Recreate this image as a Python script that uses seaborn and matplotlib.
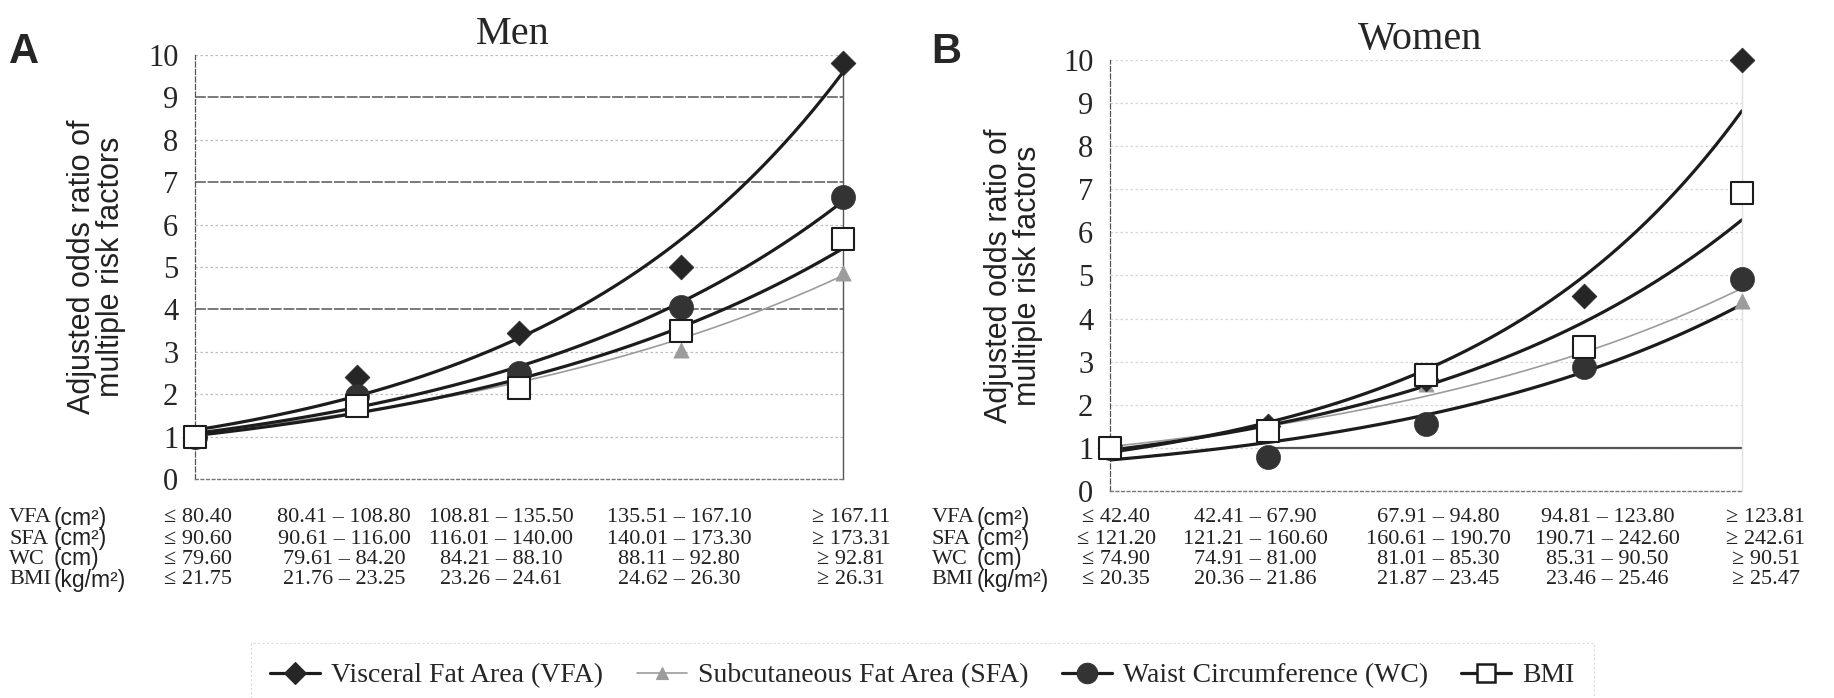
import numpy as np
import pandas as pd
import matplotlib
matplotlib.use("Agg")
import matplotlib.pyplot as plt
import seaborn as sns
from matplotlib.lines import Line2D
from matplotlib.transforms import blended_transform_factory

# ---------------- data ----------------
categories = ["Q1", "Q2", "Q3", "Q4", "Q5"]

men_vfa = [1.0, 2.4, 3.45, 5.0, 9.8]
men_sfa = [1.0, 1.75, 2.4, 3.05, 4.85]
men_wc = [1.0, 1.95, 2.5, 4.05, 6.65]
men_bmi = [1.0, 1.72, 2.15, 3.5, 5.65]

women_vfa = [1.0, 1.5, 2.6, 4.53, 10.0]
women_sfa = [1.0, 1.43, 2.48, 3.3, 4.4]
women_wc = [1.0, 0.78, 1.55, 2.87, 4.92]
women_bmi = [1.0, 1.4, 2.68, 3.33, 6.92]

row_names = ["VFA", "SFA", "WC", "BMI"]
row_units = ["(cm²)", "(cm²)", "(cm)", "(kg/m²)"]
men_table = [
    ["≤ 80.40", "80.41 – 108.80", "108.81 – 135.50", "135.51 – 167.10", "≥ 167.11"],
    ["≤ 90.60", "90.61 – 116.00", "116.01 – 140.00", "140.01 – 173.30", "≥ 173.31"],
    ["≤ 79.60", "79.61 – 84.20", "84.21 – 88.10", "88.11 – 92.80", "≥ 92.81"],
    ["≤ 21.75", "21.76 – 23.25", "23.26 – 24.61", "24.62 – 26.30", "≥ 26.31"],
]
women_table = [
    ["≤ 42.40", "42.41 – 67.90", "67.91 – 94.80", "94.81 – 123.80", "≥ 123.81"],
    ["≤ 121.20", "121.21 – 160.60", "160.61 – 190.70", "190.71 – 242.60", "≥ 242.61"],
    ["≤ 74.90", "74.91 – 81.00", "81.01 – 85.30", "85.31 – 90.50", "≥ 90.51"],
    ["≤ 20.35", "20.36 – 21.86", "21.87 – 23.45", "23.46 – 25.46", "≥ 25.47"],
]
series_names = ["Visceral Fat Area (VFA)", "Subcutaneous Fat Area (SFA)",
                "Waist Circumference (WC)", "BMI"]
y_ticks = list(range(0, 11))

# ---------------- style ----------------
sns.set_theme(style="white")
plt.rcParams["font.family"] = ["Liberation Serif", "DejaVu Serif"]
SERIF = ["Liberation Serif", "DejaVu Serif"]
SANS = ["Liberation Sans", "DejaVu Sans"]

BLACK = "#1c1c1c"
GRAY = "#9c9c9c"

styles = {
    "VFA": dict(line=BLACK, lw=2.3, marker="D", s=160, face="#262626", edge="#262626", elw=0.5),
    "SFA": dict(line=GRAY, lw=1.2, marker="^", s=120, face=GRAY, edge=GRAY, elw=0.5),
    "WC": dict(line=BLACK, lw=2.3, marker="o", s=300, face="#333333", edge="#333333", elw=0.5),
    "BMI": dict(line=BLACK, lw=2.3, marker="s", s=240, face="white", edge=BLACK, elw=1.5),
}

fig = plt.figure(figsize=(18.34, 6.98), dpi=100)
axA = fig.add_axes([0.1063, 0.3138, 0.3533, 0.6074])
axB = fig.add_axes([0.6052, 0.2966, 0.3446, 0.6175])

x = np.arange(len(categories))
xs = np.linspace(0, len(categories) - 1, 200)


def exp_trend(vals):
    b, a = np.polyfit(x, np.log(vals), 1)
    return np.exp(a + b * xs)


def draw_panel(ax, data, title, letter, table, col_x, dark_grid, grid_light, label_x, letter_x):
    ax.set_xlim(0, 4)
    ax.set_ylim(0, 10)
    # gridlines
    for yv in range(1, 11):
        c, ls, lw = (grid_light, (0, (2, 2)), 0.9)
        if yv in dark_grid:
            c, ls, lw = ("#6f6f6f", (0, (6, 1)), 1.3)
        ax.axhline(yv, color=c, ls=ls, lw=lw, zorder=0)
    # trend lines
    for key in ["SFA", "BMI", "WC", "VFA"]:
        st = styles[key]
        sns.lineplot(x=xs, y=exp_trend(data[key]), ax=ax, color=st["line"],
                     lw=st["lw"], zorder=2, legend=False)
    for key in ["SFA", "VFA", "WC", "BMI"]:
        st = styles[key]
        df = pd.DataFrame({"x": x, "y": data[key]})
        sns.scatterplot(data=df, x="x", y="y", ax=ax, marker=st["marker"], s=st["s"],
                        color=st["face"], edgecolor=st["edge"], linewidth=st["elw"],
                        zorder=4, clip_on=False, legend=False)
    # spines
    ax.spines["top"].set_visible(False)
    ax.spines["left"].set_linestyle((0, (4, 2)))
    ax.spines["left"].set_color("#555555")
    ax.spines["left"].set_linewidth(0.9)
    ax.spines["bottom"].set_linestyle((0, (2, 2)))
    ax.spines["bottom"].set_color("#777777")
    ax.spines["bottom"].set_linewidth(1.0)
    ax.spines["right"].set_color("#555555" if letter == "A" else "#e0e0e0")
    ax.spines["right"].set_linewidth(1.0)
    ax.set_yticks(y_ticks)
    ax.set_yticklabels([str(t) for t in y_ticks], fontsize=22, family=SERIF)
    ax.tick_params(axis="y", length=0, pad=12)
    ax.set_xticks([1, 2, 3])
    ax.set_xticklabels([])
    ax.tick_params(axis="x", direction="in", length=6, width=1, color="#444444")
    ax.set_xlabel("")
    ax.set_ylabel("Adjusted odds ratio of\nmultiple risk factors", fontsize=22,
                  family=SANS, linespacing=0.95, color="#222222")
    ax.yaxis.set_label_coords(label_x, 0.5)
    ax.set_title(title, fontsize=29, family=SERIF, pad=8, x=0.49)
    fig.text(letter_x, 0.925, letter, fontsize=30, fontweight="bold", family=SANS,
             va="center", ha="left")
    # table under the axes
    tr = blended_transform_factory(ax.transData, fig.transFigure)
    row_y = [1 - 518 / 698, 1 - 539 / 698, 1 - 559 / 698, 1 - 580 / 698]
    for r, (name, unit, cells) in enumerate(zip(row_names, row_units, table)):
        fig.text(letter_x, row_y[r], name, fontsize=16, family=SERIF, va="center",
                 ha="left", color="#222222")
        fig.text(letter_x + 0.0245, row_y[r], unit, fontsize=16.5, family=SANS,
                 va="center", ha="left", color="#222222")
        for cx, cell in zip(col_x, cells):
            ax.text(cx, row_y[r], cell, transform=tr, fontsize=16, family=SERIF,
                    va="center", ha="center", color="#222222", clip_on=False)


men = {"VFA": men_vfa, "SFA": men_sfa, "WC": men_wc, "BMI": men_bmi}
women = {"VFA": women_vfa, "SFA": women_sfa, "WC": women_wc, "BMI": women_bmi}

draw_panel(axA, men, "Men", "A", men_table, [0.02, 0.92, 1.89, 2.99, 4.05],
           dark_grid={4, 7, 9}, grid_light="#bdbdbd", label_x=-0.106, letter_x=0.005)
draw_panel(axB, women, "Women", "B", women_table, [0.04, 0.92, 2.08, 3.15, 4.15],
           dark_grid=set(), grid_light="#d6d6d6", label_x=-0.106, letter_x=0.508)
axB.hlines(1, 1, 4, color="#555555", lw=1.6, zorder=1)

# legend
handles = []
for key in ["VFA", "SFA", "WC", "BMI"]:
    st = styles[key]
    handles.append(Line2D([0], [0], color=st["line"], lw=st["lw"], marker=st["marker"],
                          markersize=np.sqrt(st["s"]) * 0.85, markerfacecolor=st["face"],
                          markeredgecolor=st["edge"], markeredgewidth=st["elw"] + 0.3))
leg = fig.legend(handles=handles, labels=series_names, loc="center",
                 bbox_to_anchor=(0.503, 0.032), ncol=4, frameon=True,
                 handlelength=1.8, columnspacing=1.2, handletextpad=0.4,
                 prop={"family": SERIF, "size": 20}, borderpad=0.4)
leg.get_frame().set_edgecolor("#d0d0d0")
leg.get_frame().set_linestyle((0, (2, 2)))
leg.get_frame().set_linewidth(0.8)
leg.get_frame().set_boxstyle("square", pad=0.3)

fig.savefig("out.png", dpi=100)
